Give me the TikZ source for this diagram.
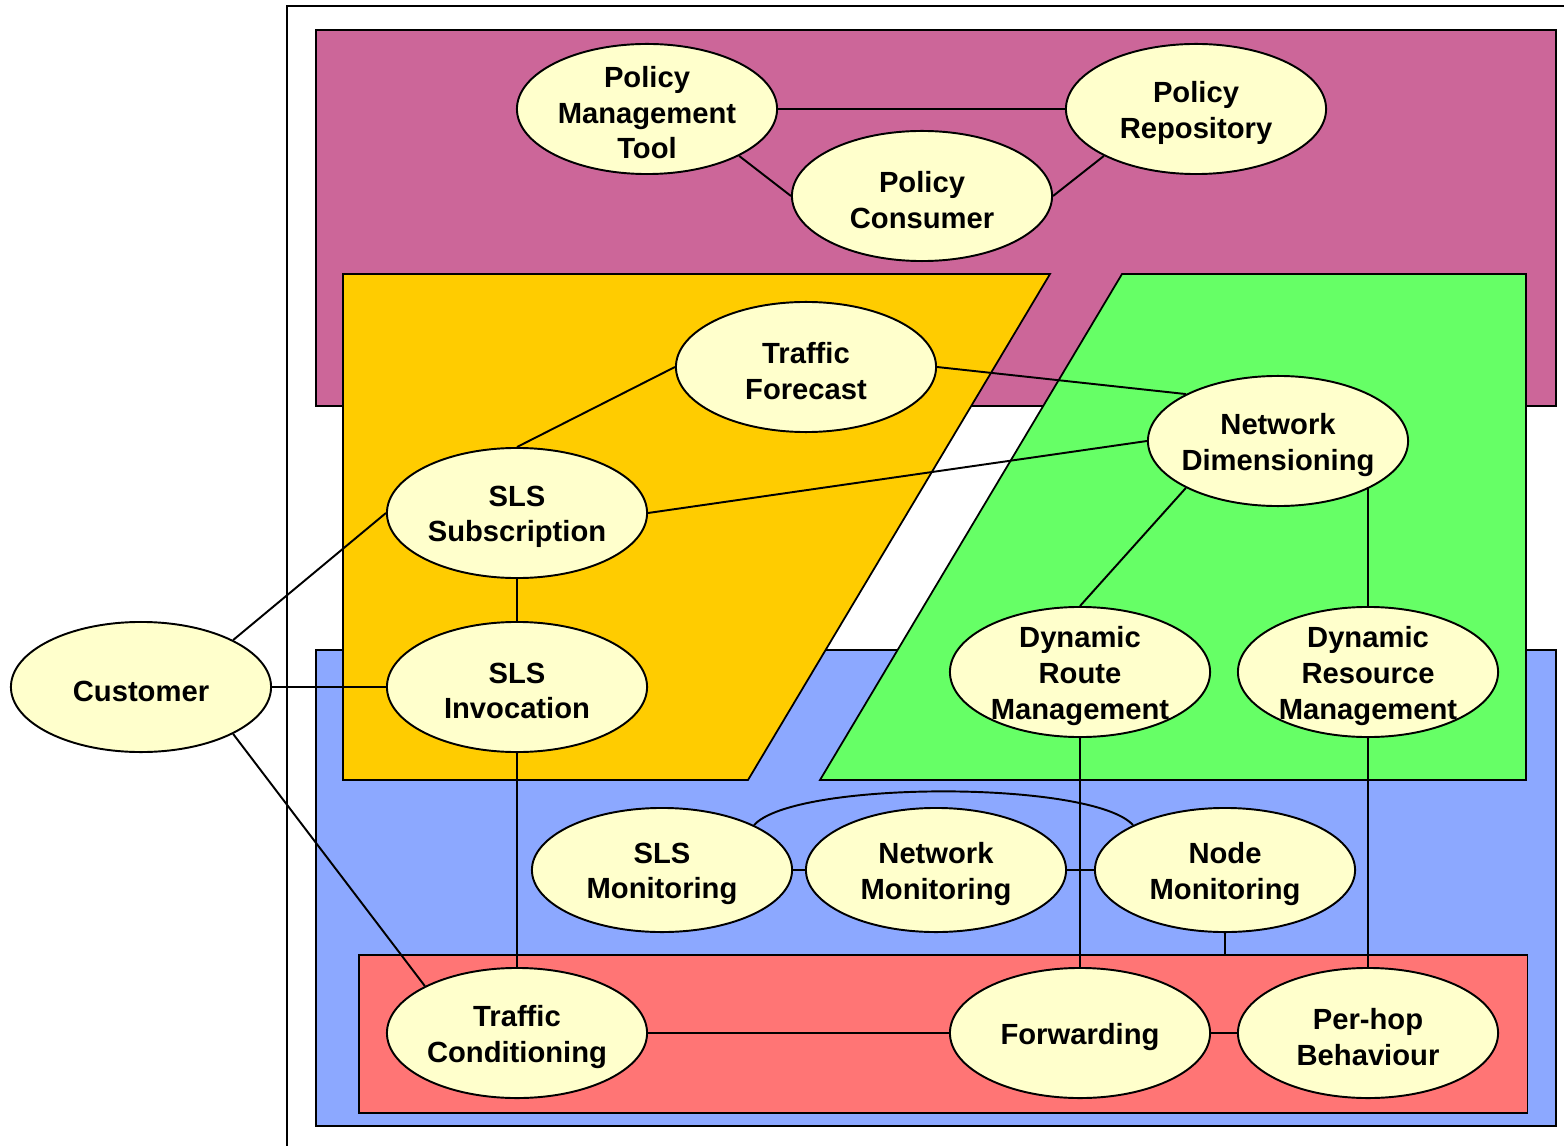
\documentclass[tikz,border=0pt]{standalone}
\usepackage{fontspec}
\setmainfont{Liberation Sans}
\usetikzlibrary{shapes.geometric}
\definecolor{policy}{RGB}{204,102,153}
\definecolor{service}{RGB}{255,204,0}
\definecolor{traffic}{RGB}{102,255,102}
\definecolor{monitor}{RGB}{140,168,255}
\definecolor{forward}{RGB}{255,117,117}
\definecolor{block}{RGB}{255,255,204}

\begin{document}
\begin{tikzpicture}[x=0.01cm, y=-0.01cm, line width=0.55pt,
      blk/.style={ellipse, draw, fill=block, minimum width=2.6cm, minimum height=1.3cm, inner sep=0pt,
        label={[align=center, yshift=-0.04cm, font=\fontsize{8.3}{10.1}\selectfont\bfseries]center:#1}},
      mon/.style={blk=#1, minimum height=1.24cm},
      area/.style={draw, line width=0.5pt}]
      \useasboundingbox (0,0) rectangle (1564,1146);
      \draw[line width=0.7pt] (287,1146) -- (287,6) -- (1564,6);
      \draw[area, fill=policy] (316,30) rectangle (1556,406);
      \draw[area, fill=monitor] (316,650) rectangle (1556,1126);
      \node[area, fill=forward, minimum width=11.68cm, minimum height=1.58cm, inner sep=0pt, anchor=north west] (plane) at (358,954) {};
      \draw[area, fill=service] (343,274) -- (1050,274) -- (748,780) -- (343,780) -- cycle;
      \draw[area, fill=traffic] (1122,274) -- (1526,274) -- (1526,780) -- (820,780) -- cycle;

      \node[blk={Policy\\Management\\Tool}] (pmt) at (647,109) {};
      \node[blk={Policy\\Repository}] (repo) at (1196,109) {};
      \node[blk={Policy\\Consumer}] (cons) at (922,196) {};
      \node[blk={Traffic\\Forecast}] (tf) at (806,367) {};
      \node[blk={Network\\Dimensioning}] (nd) at (1278,441) {};
      \node[blk={SLS\\Subscription}] (slss) at (517,513) {};
      \node[blk={SLS\\Invocation}] (slsi) at (517,687) {};
      \node[blk=Customer] (cust) at (141,687) {};
      \node[blk={Dynamic\\Route\\Management}] (drtm) at (1080,672) {};
      \node[blk={Dynamic\\Resource\\Management}] (drsm) at (1368,672) {};
      \node[mon={SLS\\Monitoring}] (slsm) at (662,870) {};
      \node[mon={Network\\Monitoring}] (netm) at (936,870) {};
      \node[mon={Node\\Monitoring}] (nodem) at (1225,870) {};
      \node[blk={Traffic\\Conditioning}] (tc) at (517,1033) {};
      \node[blk=Forwarding] (fwd) at (1080,1033) {};
      \node[blk={Per-hop\\Behaviour}] (phb) at (1368,1033) {};

      \draw (pmt) -- (repo);
      \draw (pmt.-27) -- (cons.west);
      \draw (cons.east) -- (repo.-153);
      \draw (tf.west) -- (slss.north);
      \draw (tf.east) -- (nd.153);
      \draw (slss.east) -- (nd.west);
      \draw (slss) -- (slsi);
      \draw (cust.27) -- (slss.west);
      \draw (cust) -- (slsi);
      \draw (cust.-27) -- (tc.153);
      \draw (slsi) -- (tc);
      \draw (nd.-153) -- (drtm.north);
      \draw (drsm.north) -- (drsm.north |- nd.-27);
      \draw (drtm) -- (fwd);
      \draw (drsm) -- (phb);
      \draw (slsm) -- (netm);
      \draw (netm) -- (nodem);
      \draw (slsm.26) .. controls +(40,-45) and +(-40,-45) .. (nodem.154);
      \draw (nodem.south) -- (nodem.south |- plane.north);
      \draw (tc) -- (fwd);
      \draw (fwd) -- (phb);
    \end{tikzpicture}
\end{document}
